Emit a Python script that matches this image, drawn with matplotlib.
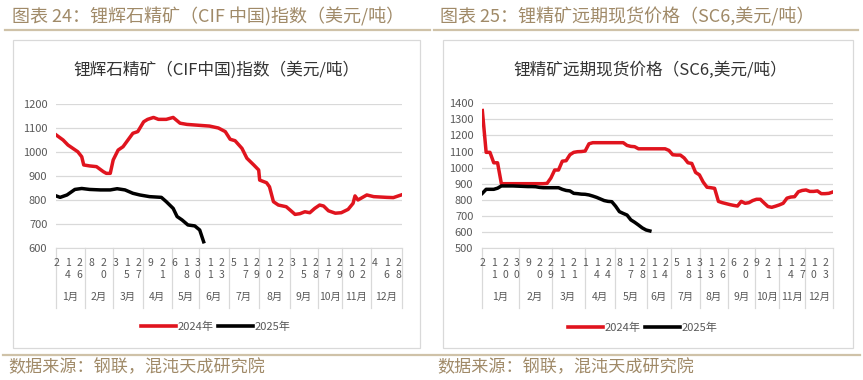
import numpy as np
import pandas as pd
import matplotlib
matplotlib.use('Agg')
import matplotlib.pyplot as plt
from matplotlib.patches import Rectangle
from matplotlib.lines import Line2D

plt.rcParams['font.family'] = ['Noto Sans CJK SC', 'DejaVu Sans']

W, H = 863, 380

# Chart 24: spodumene CIF China index, one category per calendar day (holidays missing)
gap_days = ['2024-02-01', '2024-04-04', '2024-05-01', '2024-05-02', '2024-05-03',
            '2024-09-17', '2024-10-01', '2024-10-02', '2024-10-03', '2024-10-04',
            '2024-10-05', '2024-10-06', '2024-10-07']

cif_2024_dates = ['01-02', '01-09', '01-14', '01-19', '01-24', '01-28', '01-30',
                  '02-06', '02-13', '02-20', '02-23', '02-27',
                  '03-01', '03-06', '03-11', '03-16', '03-21', '03-26',
                  '04-01', '04-06', '04-12', '04-17', '04-25',
                  '05-05', '05-12', '05-19',
                  '06-01', '06-11', '06-20', '06-27',
                  '07-02', '07-07', '07-14', '07-19', '07-26', '07-31',
                  '08-01', '08-08', '08-11', '08-15', '08-20', '08-28',
                  '09-01', '09-06', '09-11', '09-16', '09-22', '09-27',
                  '10-09', '10-13', '10-18', '10-25', '10-31',
                  '11-07', '11-12', '11-14', '11-17', '11-26',
                  '12-03', '12-16', '12-23', '12-31']
cif_2024 = [1071, 1050, 1029, 1015, 1001, 980, 946,
            942, 939, 918, 911, 911,
            967, 1008, 1022, 1050, 1078, 1085,
            1126, 1136, 1144, 1136, 1136,
            1144, 1120, 1115,
            1111, 1108, 1100, 1085,
            1053, 1047, 1015, 974, 946, 925,
            883, 872, 855, 793, 779, 772,
            758, 740, 743, 751, 747, 765,
            779, 775, 755, 745, 747,
            761, 786, 817, 800, 821,
            814, 811, 810, 821]

cif_2025_dates = ['01-02', '01-06', '01-13', '01-21', '01-28', '02-06', '02-17', '02-27',
                  '03-05', '03-13', '03-21', '03-28', '04-08', '04-20', '04-25',
                  '05-05', '05-09', '05-14', '05-20', '05-27', '06-01', '06-05']
cif_2025 = [817, 811, 821, 844, 848, 844, 842, 842,
            847, 842, 828, 821, 814, 811, 793,
            765, 731, 717, 696, 692, 675, 626]

# Chart 25: SC6 forward spot, values read every 3rd category
sc6_month_counts = [29, 26, 26, 24, 25, 19, 23, 22, 21, 19, 21, 22]
sc6_tick_labels = ['2', '11', '20', '30', '9', '20', '29', '11', '21', '1', '14', '24',
                   '8', '17', '28', '11', '24', '5', '18', '31', '13', '26', '6', '20',
                   '9', '21', '1', '14', '27', '10', '23']
sc6_2024 = [1355, 1095, 1095, 1030, 1030,
            900, 900, 900, 900, 900, 900, 900, 900, 900, 900, 900, 900, 902,
            935, 985, 985, 1040, 1043, 1080, 1095, 1099, 1100, 1103, 1148,
            1155, 1155, 1155, 1155, 1155, 1155, 1155, 1155, 1155,
            1138, 1132, 1130, 1117, 1117, 1117, 1117, 1117, 1117, 1117, 1117,
            1107, 1080, 1078, 1078, 1060, 1030, 1026, 970, 955, 910, 878, 875, 871,
            790, 782, 776, 770, 765, 761, 790, 778, 782, 795, 803, 803,
            780, 758, 753, 760, 768, 778, 810, 817, 819, 850, 858, 861,
            852, 852, 855, 838, 838, 840, 848]
sc6_2025 = [840, 865, 865, 865, 872, 886, 886, 886, 886, 885, 884, 883, 882, 882, 881,
            877, 875, 875, 875, 875, 875, 865, 858, 855, 840, 838, 835, 834, 830, 823,
            815, 805, 795, 790, 788, 760, 726, 715, 705, 675, 660, 643, 625, 612, 606]

month_names = ['1月', '2月', '3月', '4月', '5月', '6月', '7月', '8月', '9月', '10月', '11月', '12月']

RED = '#E0141E'
GRID = '#D9D9D9'
TXT = '#595959'
TAN = '#A08A68'


def px_axes(fig, x0, y0, x1, y1):
    return fig.add_axes([x0 / W, 1 - y1 / H, (x1 - x0) / W, (y1 - y0) / H])


def style_axes(ax, ylim, ystep, n):
    ax.set_xlim(-0.5, n - 0.5)
    ax.set_ylim(*ylim)
    ax.set_yticks(np.arange(ylim[0], ylim[1] + 1, ystep))
    ax.set_xticks([])
    ax.tick_params(axis='y', length=0, pad=6, labelsize=8, labelcolor=TXT)
    ax.grid(axis='y', color=GRID, lw=0.9)
    ax.set_axisbelow(True)
    for s in ['top', 'right', 'left']:
        ax.spines[s].set_visible(False)
    ax.spines['bottom'].set_color(GRID)


def month_axis(ax, tick_pos, tick_labels, edges, h_px):
    tr = ax.get_xaxis_transform()
    for p, lab in zip(tick_pos, tick_labels):
        for k, ch in enumerate(lab):
            ax.text(p, -(14.5 + 12.5 * k) / h_px, ch, transform=tr, ha='center',
                    va='center', fontsize=7.5, color=TXT)
    for e in edges:
        ax.plot([e, e], [0, -60 / h_px], transform=tr, color=GRID, lw=0.9, clip_on=False)
    for a, b, name in zip(edges[:-1], edges[1:], month_names):
        ax.text((a + b) / 2, -49 / h_px, name, transform=tr, ha='center', va='center',
                fontsize=7.5, color=TXT)


def legend(ax, cx, cy):
    handles = [Line2D([], [], color=RED, lw=2.6), Line2D([], [], color='black', lw=2.6)]
    ax.legend(handles, ['2024年', '2025年'], loc='center', ncol=2, frameon=False,
              bbox_to_anchor=(cx / W, 1 - cy / H), bbox_transform=fig.transFigure,
              fontsize=8, handlelength=3.1, handletextpad=0.2, columnspacing=0.4,
              labelcolor=TXT)


fig = plt.figure(figsize=(W / 100, H / 100), dpi=100)

# frame decoration
for x0, x1 in [(5, 430), (434, 858)]:
    fig.add_artist(Line2D([x0 / W, x1 / W], [1 - 29.5 / H] * 2, color='#CFC2A8', lw=1.6))
fig.add_artist(Line2D([3 / W, 860 / W], [1 - 355 / H] * 2, color='#CFC2A8', lw=1.6))
for x0, y0, x1, y1 in [(13, 40, 420, 348), (443, 40, 853, 348)]:
    fig.add_artist(Rectangle((x0 / W, 1 - y1 / H), (x1 - x0) / W, (y1 - y0) / H,
                             transform=fig.transFigure, fill=False, ec=GRID, lw=0.9))
fig.text(12 / W, 1 - 17 / H, '图表 24：锂辉石精矿（CIF 中国)指数（美元/吨）', fontsize=13,
         color=TAN, va='center')
fig.text(440 / W, 1 - 17 / H, '图表 25：锂精矿远期现货价格（SC6,美元/吨）', fontsize=13,
         color=TAN, va='center')
fig.text(8 / W, 1 - 367 / H, '数据来源：钢联，混沌天成研究院', fontsize=12.3, color=TAN, va='center')
fig.text(437 / W, 1 - 367 / H, '数据来源：钢联，混沌天成研究院', fontsize=12.3, color=TAN, va='center')

# chart 24
days = pd.date_range('2024-01-02', '2024-12-31')
days = days[~days.isin(pd.to_datetime(gap_days))]
pos = {d.strftime('%m-%d'): i for i, d in enumerate(days)}
n1 = len(days)
ax1 = px_axes(fig, 55.7, 104, 401.7, 248)
style_axes(ax1, (600, 1200), 100, n1)
ax1.plot([pos[d] for d in cif_2024_dates], cif_2024, color=RED, lw=2.5, solid_joinstyle='round')
ax1.plot([pos[d] for d in cif_2025_dates], cif_2025, color='black', lw=2.5, solid_joinstyle='round')
change = np.flatnonzero(np.diff(days.month)) + 0.5
edges1 = np.concatenate([[-0.5], change, [n1 - 0.5]])
ticks1 = np.arange(0, n1, 12)
month_axis(ax1, ticks1, [str(days[i].day) for i in ticks1], edges1, 144)
fig.text(217 / W, 1 - 70 / H, '锂辉石精矿（CIF中国)指数（美元/吨）', fontsize=12,
         color='#333333', ha='center', va='center')
legend(ax1, 216, 327)

# chart 25
n2 = sum(sc6_month_counts)
ax2 = px_axes(fig, 481.7, 103.3, 833.3, 248)
style_axes(ax2, (500, 1400), 100, n2)
ax2.plot(np.arange(len(sc6_2024)) * 3, sc6_2024, color=RED, lw=2.5, solid_joinstyle='round')
ax2.plot(np.arange(len(sc6_2025)) * 3, sc6_2025, color='black', lw=2.5, solid_joinstyle='round')
edges2 = np.concatenate([[0], np.cumsum(sc6_month_counts)]) - 0.5
month_axis(ax2, np.arange(len(sc6_tick_labels)) * 9, sc6_tick_labels, edges2, 144.7)
fig.text(650 / W, 1 - 70 / H, '锂精矿远期现货价格（SC6,美元/吨）', fontsize=12,
         color='#333333', ha='center', va='center')
legend(ax2, 643, 328)

fig.savefig('out.png', dpi=100, facecolor='white')
